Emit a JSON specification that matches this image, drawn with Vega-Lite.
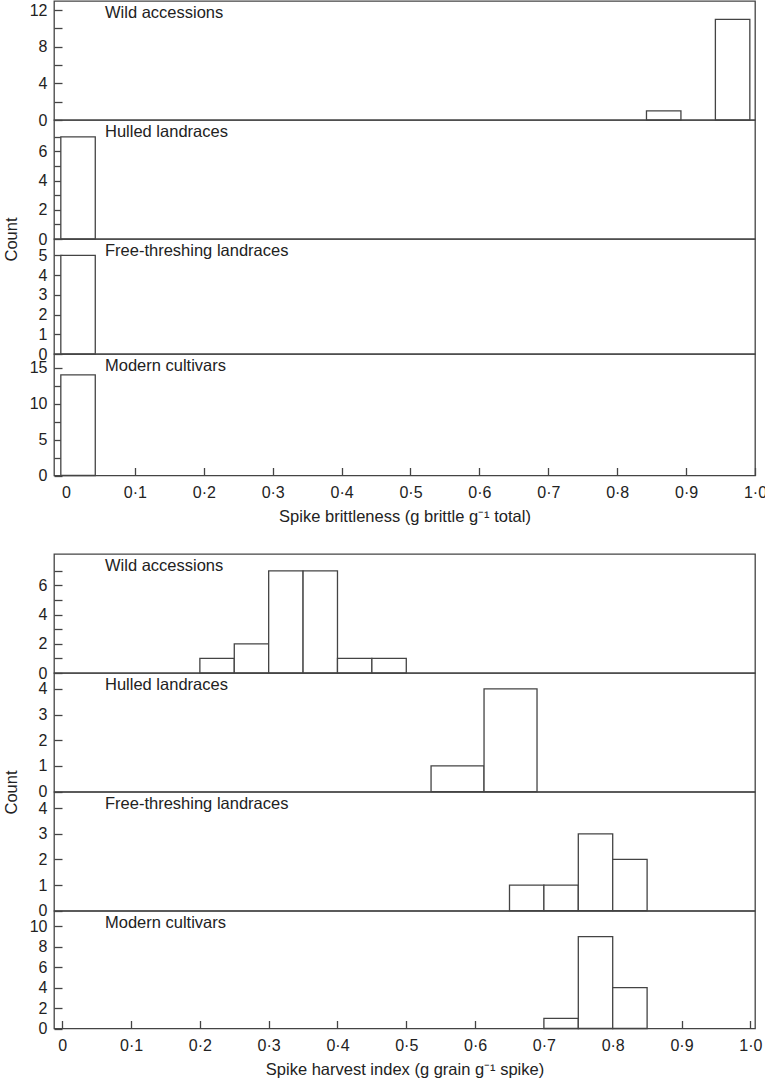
{
  "$schema": "https://vega.github.io/schema/vega-lite/v6.json",
  "padding": {"left": 2, "top": 0, "right": 2, "bottom": 0},
  "background": "white",
  "config": {
    "font": "Liberation Sans",
    "view": {"stroke": "#444", "strokeWidth": 1.3},
    "axis": {
      "grid": false,
      "domain": false,
      "tickColor": "#444",
      "tickWidth": 1.3,
      "tickSize": -8,
      "labelFont": "Liberation Sans",
      "labelFontSize": 16,
      "labelColor": "#222",
      "labelFlush": false,
      "labelOverlap": false,
      "titleFont": "Liberation Sans",
      "titleFontSize": 16.5,
      "titleFontWeight": "normal",
      "titleColor": "#222"
    },
    "axisY": {"labelPadding": 15},
    "axisX": {"labelPadding": 17, "titlePadding": 8},
    "title": {"font": "Liberation Sans", "fontSize": 16.5, "fontWeight": "normal", "color": "#222", "anchor": "start", "frame": "group", "orient": "top", "offset": -20, "dx": 51, "baseline": "alphabetic"}
  },
  "datasets": {
    "bars": [
      {"chart": "brittle", "group": "Wild accessions", "x0": 0.8425, "x1": 0.8925, "count": 1},
      {"chart": "brittle", "group": "Wild accessions", "x0": 0.9425, "x1": 0.9925, "count": 11},
      {"chart": "brittle", "group": "Hulled landraces", "x0": -0.0075, "x1": 0.0425, "count": 7},
      {"chart": "brittle", "group": "Free-threshing landraces", "x0": -0.0075, "x1": 0.0425, "count": 5},
      {"chart": "brittle", "group": "Modern cultivars", "x0": -0.0075, "x1": 0.0425, "count": 14},
      {"chart": "hi", "group": "Wild accessions", "x0": 0.2, "x1": 0.25, "count": 1},
      {"chart": "hi", "group": "Wild accessions", "x0": 0.25, "x1": 0.3, "count": 2},
      {"chart": "hi", "group": "Wild accessions", "x0": 0.3, "x1": 0.35, "count": 7},
      {"chart": "hi", "group": "Wild accessions", "x0": 0.35, "x1": 0.4, "count": 7},
      {"chart": "hi", "group": "Wild accessions", "x0": 0.4, "x1": 0.45, "count": 1},
      {"chart": "hi", "group": "Wild accessions", "x0": 0.45, "x1": 0.5, "count": 1},
      {"chart": "hi", "group": "Hulled landraces", "x0": 0.536, "x1": 0.613, "count": 1},
      {"chart": "hi", "group": "Hulled landraces", "x0": 0.613, "x1": 0.69, "count": 4},
      {"chart": "hi", "group": "Free-threshing landraces", "x0": 0.65, "x1": 0.7, "count": 1},
      {"chart": "hi", "group": "Free-threshing landraces", "x0": 0.7, "x1": 0.75, "count": 1},
      {"chart": "hi", "group": "Free-threshing landraces", "x0": 0.75, "x1": 0.8, "count": 3},
      {"chart": "hi", "group": "Free-threshing landraces", "x0": 0.8, "x1": 0.85, "count": 2},
      {"chart": "hi", "group": "Modern cultivars", "x0": 0.7, "x1": 0.75, "count": 1},
      {"chart": "hi", "group": "Modern cultivars", "x0": 0.75, "x1": 0.8, "count": 9},
      {"chart": "hi", "group": "Modern cultivars", "x0": 0.8, "x1": 0.85, "count": 4}
    ]
  },
  "spacing": 27,
  "vconcat": [
    {
      "spacing": 0,
      "bounds": "flush",
      "vconcat": [
        {
          "width": 701, "height": 119,
          "title": {"text": "Wild accessions"},
          "data": {"name": "bars"},
          "transform": [{"filter": "datum.chart == 'brittle' && datum.group == 'Wild accessions'"}],
          "mark": {"type": "rect", "fill": "white", "stroke": "#444", "strokeWidth": 1.3},
          "encoding": {
            "x": {"field": "x0", "type": "quantitative", "scale": {"domain": [-0.0174, 1.0], "nice": false, "zero": false}, "axis": null},
            "x2": {"field": "x1"},
            "y": {"field": "count", "type": "quantitative", "scale": {"domain": [0, 13], "nice": false}, "axis": {"title": null, "values": [0, 2, 4, 6, 8, 10, 12], "labelExpr": "datum.value % 4 == 0 ? datum.label : ''"}},
            "y2": {"datum": 0}
          }
        },
        {
          "width": 701, "height": 119,
          "title": {"text": "Hulled landraces"},
          "data": {"name": "bars"},
          "transform": [{"filter": "datum.chart == 'brittle' && datum.group == 'Hulled landraces'"}],
          "mark": {"type": "rect", "fill": "white", "stroke": "#444", "strokeWidth": 1.3},
          "encoding": {
            "x": {"field": "x0", "type": "quantitative", "scale": {"domain": [-0.0174, 1.0], "nice": false, "zero": false}, "axis": null},
            "x2": {"field": "x1"},
            "y": {"field": "count", "type": "quantitative", "scale": {"domain": [0, 8.15], "nice": false}, "axis": {"title": "Count", "titleX": -38, "titleY": 119, "titleBaseline": "alphabetic", "titleAngle": 270, "titleAlign": "center", "values": [0, 1, 2, 3, 4, 5, 6, 7], "labelExpr": "datum.value % 2 == 0 ? datum.label : ''"}},
            "y2": {"datum": 0}
          }
        },
        {
          "width": 701, "height": 115,
          "title": {"text": "Free-threshing landraces"},
          "data": {"name": "bars"},
          "transform": [{"filter": "datum.chart == 'brittle' && datum.group == 'Free-threshing landraces'"}],
          "mark": {"type": "rect", "fill": "white", "stroke": "#444", "strokeWidth": 1.3},
          "encoding": {
            "x": {"field": "x0", "type": "quantitative", "scale": {"domain": [-0.0174, 1.0], "nice": false, "zero": false}, "axis": null},
            "x2": {"field": "x1"},
            "y": {"field": "count", "type": "quantitative", "scale": {"domain": [0, 5.83], "nice": false}, "axis": {"title": null, "values": [0, 1, 2, 3, 4, 5]}},
            "y2": {"datum": 0}
          }
        },
        {
          "width": 701, "height": 121.5,
          "title": {"text": "Modern cultivars"},
          "data": {"name": "bars"},
          "transform": [{"filter": "datum.chart == 'brittle' && datum.group == 'Modern cultivars'"}],
          "mark": {"type": "rect", "fill": "white", "stroke": "#444", "strokeWidth": 1.3},
          "encoding": {
            "x": {"field": "x0", "type": "quantitative", "scale": {"domain": [-0.0174, 1.0], "nice": false, "zero": false}, "axis": {"title": "Spike brittleness (g brittle g⁻¹ total)", "values": [0, 0.1, 0.2, 0.3, 0.4, 0.5, 0.6, 0.7, 0.8, 0.9, 1.0], "labelExpr": "datum.value == 0 ? '0' : replace(format(datum.value, '.1f'), '.', '·')"}},
            "x2": {"field": "x1"},
            "y": {"field": "count", "type": "quantitative", "scale": {"domain": [0, 16.9], "nice": false}, "axis": {"title": null, "values": [0, 2.5, 5, 7.5, 10, 12.5, 15], "labelExpr": "datum.value % 5 == 0 ? datum.label : ''"}},
            "y2": {"datum": 0}
          }
        }
      ]
    },
    {
      "spacing": 0,
      "bounds": "flush",
      "vconcat": [
        {
          "width": 701, "height": 119,
          "title": {"text": "Wild accessions"},
          "data": {"name": "bars"},
          "transform": [{"filter": "datum.chart == 'hi' && datum.group == 'Wild accessions'"}],
          "mark": {"type": "rect", "fill": "white", "stroke": "#444", "strokeWidth": 1.3},
          "encoding": {
            "x": {"field": "x0", "type": "quantitative", "scale": {"domain": [-0.012, 1.0068], "nice": false, "zero": false}, "axis": null},
            "x2": {"field": "x1"},
            "y": {"field": "count", "type": "quantitative", "scale": {"domain": [0, 8.15], "nice": false}, "axis": {"title": null, "values": [0, 1, 2, 3, 4, 5, 6, 7], "labelExpr": "datum.value % 2 == 0 ? datum.label : ''"}},
            "y2": {"datum": 0}
          }
        },
        {
          "width": 701, "height": 118.6,
          "title": {"text": "Hulled landraces"},
          "data": {"name": "bars"},
          "transform": [{"filter": "datum.chart == 'hi' && datum.group == 'Hulled landraces'"}],
          "mark": {"type": "rect", "fill": "white", "stroke": "#444", "strokeWidth": 1.3},
          "encoding": {
            "x": {"field": "x0", "type": "quantitative", "scale": {"domain": [-0.012, 1.0068], "nice": false, "zero": false}, "axis": null},
            "x2": {"field": "x1"},
            "y": {"field": "count", "type": "quantitative", "scale": {"domain": [0, 4.62], "nice": false}, "axis": {"title": "Count", "titleX": -38, "titleY": 119, "titleBaseline": "alphabetic", "titleAngle": 270, "titleAlign": "center", "values": [0, 1, 2, 3, 4]}},
            "y2": {"datum": 0}
          }
        },
        {
          "width": 701, "height": 118.7,
          "title": {"text": "Free-threshing landraces"},
          "data": {"name": "bars"},
          "transform": [{"filter": "datum.chart == 'hi' && datum.group == 'Free-threshing landraces'"}],
          "mark": {"type": "rect", "fill": "white", "stroke": "#444", "strokeWidth": 1.3},
          "encoding": {
            "x": {"field": "x0", "type": "quantitative", "scale": {"domain": [-0.012, 1.0068], "nice": false, "zero": false}, "axis": null},
            "x2": {"field": "x1"},
            "y": {"field": "count", "type": "quantitative", "scale": {"domain": [0, 4.63], "nice": false}, "axis": {"title": null, "values": [0, 1, 2, 3, 4]}},
            "y2": {"datum": 0}
          }
        },
        {
          "width": 701, "height": 117.5,
          "title": {"text": "Modern cultivars"},
          "data": {"name": "bars"},
          "transform": [{"filter": "datum.chart == 'hi' && datum.group == 'Modern cultivars'"}],
          "mark": {"type": "rect", "fill": "white", "stroke": "#444", "strokeWidth": 1.3},
          "encoding": {
            "x": {"field": "x0", "type": "quantitative", "scale": {"domain": [-0.012, 1.0068], "nice": false, "zero": false}, "axis": {"title": "Spike harvest index (g grain g⁻¹ spike)", "values": [0, 0.1, 0.2, 0.3, 0.4, 0.5, 0.6, 0.7, 0.8, 0.9, 1.0], "labelExpr": "datum.value == 0 ? '0' : replace(format(datum.value, '.1f'), '.', '·')"}},
            "x2": {"field": "x1"},
            "y": {"field": "count", "type": "quantitative", "scale": {"domain": [0, 11.5], "nice": false}, "axis": {"title": null, "values": [0, 2, 4, 6, 8, 10]}},
            "y2": {"datum": 0}
          }
        }
      ]
    }
  ]
}
